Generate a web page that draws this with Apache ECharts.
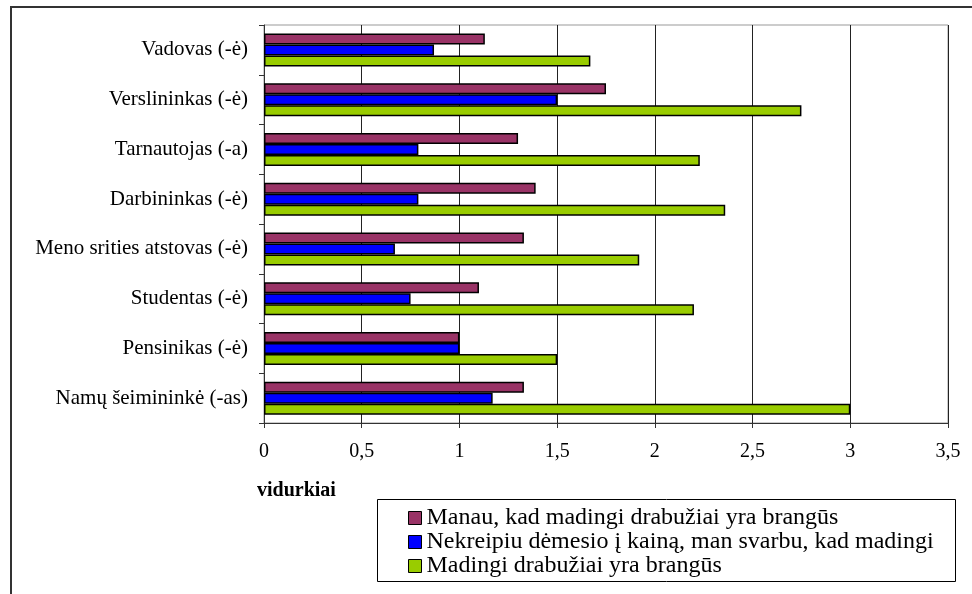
<!DOCTYPE html>
<html>
<head>
<meta charset="utf-8">
<script src="https://cdn.jsdelivr.net/npm/echarts@6/dist/echarts.min.js"></script>
<style>
  html, body { margin: 0; padding: 0; background: #fff; }
  #chart { width: 972px; height: 594px; }
</style>
</head>
<body>
<div id="chart"></div>
<script>
// Occupation groups (top to bottom)
const categories = [
  'Vadovas (-ė)',
  'Verslininkas (-ė)',
  'Tarnautojas (-a)',
  'Darbininkas (-ė)',
  'Meno srities atstovas (-ė)',
  'Studentas (-ė)',
  'Pensinikas (-ė)',
  'Namų šeimininkė (-as)'
];

const seriesNames = [
  'Manau, kad madingi drabužiai yra brangūs',
  'Nekreipiu dėmesio į kainą, man svarbu, kad madingi',
  'Madingi drabužiai yra brangūs'
];

// Average scores per group
const manauBrangus    = [1.13, 1.75, 1.30, 1.39, 1.33, 1.10, 1.00, 1.33];
const nekreipiuKainos = [0.87, 1.50, 0.79, 0.79, 0.67, 0.75, 1.00, 1.17];
const madingiBrangus  = [1.67, 2.75, 2.23, 2.36, 1.92, 2.20, 1.50, 3.00];

const xTicks = { min: 0, max: 3.5, step: 0.5 };
const axisTitle = 'vidurkiai';

const FONT = "'Liberation Serif', 'Times New Roman', serif";
const colors = ['#993366', '#0000FF', '#99CC00'];
const values = [manauBrangus, nekreipiuKainos, madingiBrangus];

const chart = echarts.init(document.getElementById('chart'), null, { renderer: 'canvas' });

chart.setOption({
  backgroundColor: '#ffffff',
  animation: false,
  grid: {
    left: 264, top: 25, right: 24, bottom: 171,
    show: true, borderColor: '#999', borderWidth: 1
  },
  xAxis: {
    type: 'value',
    min: xTicks.min, max: xTicks.max, interval: xTicks.step,
    axisLine: { show: true, lineStyle: { color: '#333', width: 1 } },
    axisTick: { show: true, length: 5, lineStyle: { color: '#333' } },
    splitLine: { show: true, lineStyle: { color: '#222', width: 1 } },
    axisLabel: {
      margin: 19,
      fontFamily: FONT, fontSize: 20, color: '#000',
      formatter: v => String(v).replace('.', ',')
    }
  },
  yAxis: {
    type: 'category',
    inverse: true,
    data: categories,
    axisLine: { show: true, lineStyle: { color: '#333', width: 1 } },
    axisTick: { show: true, length: 5, lineStyle: { color: '#333' } },
    axisLabel: { margin: 16, fontFamily: FONT, fontSize: 21, color: '#000' }
  },
  legend: {
    orient: 'vertical',
    left: 408, top: 506,
    itemWidth: 13, itemHeight: 13, itemGap: 0,
    icon: 'rect',
    padding: 0,
    textStyle: { fontFamily: FONT, fontSize: 24, color: '#000', lineHeight: 23 },
    itemStyle: { borderColor: '#000', borderWidth: 1 },
    data: seriesNames
  },
  graphic: [
    {
      type: 'polyline', silent: true,
      shape: { points: [[11, 594], [11, 7], [972, 7]] },
      style: { stroke: '#333', lineWidth: 2, fill: null }
    },
    {
      type: 'rect', silent: true,
      shape: { x: 377.5, y: 499.5, width: 578, height: 82 },
      style: { stroke: '#000', lineWidth: 1, fill: null }
    },
    {
      type: 'text', silent: true, left: 257, top: 481,
      style: { text: axisTitle, font: "bold 20px " + FONT, fill: '#000' }
    }
  ],
  series: seriesNames.map((name, i) => ({
    name,
    type: 'bar',
    data: values[i],
    barWidth: 11,
    barGap: '0%',
    itemStyle: { color: colors[i], borderColor: '#000', borderWidth: 1.5 }
  }))
});
</script>
</body>
</html>
